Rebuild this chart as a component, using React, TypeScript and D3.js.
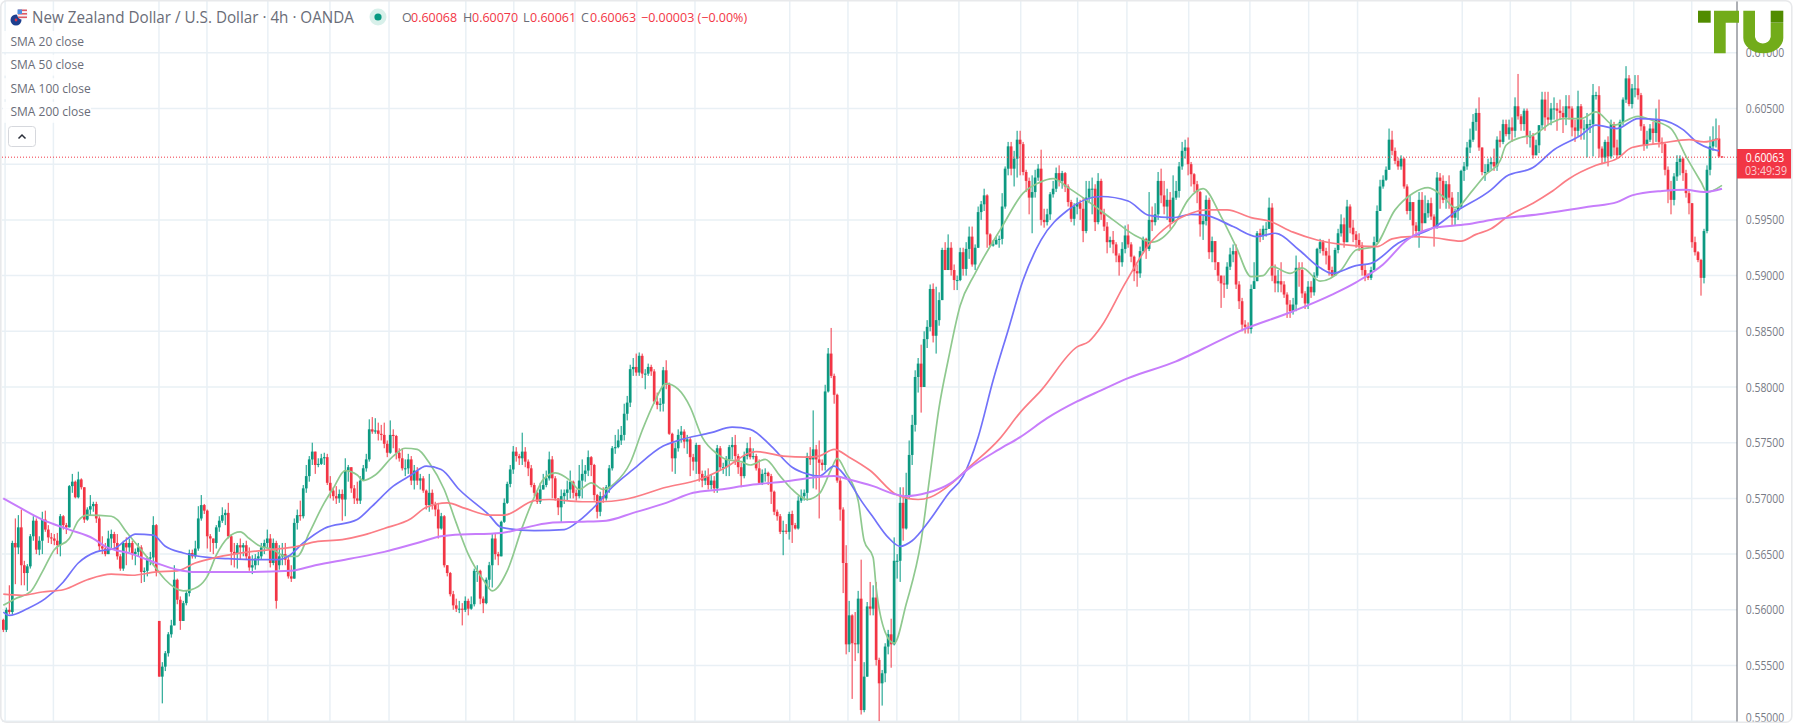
import * as d3 from 'd3';

type Bar = [number, number, number]; // high, low, close in 1/10000 of a dollar

const WIDTH = 1794;
const HEIGHT = 724;
const AXIS_X = 1737;

const barsA: Bar[] = [
  [5592,5580,5582],[5602,5580,5600],[5622,5596,5598],[5662,5596,5660],[5682,5623,5656],[5685,5650,5674],[5690,5622,5640],[5644,5622,5633],[5641,5617,5639],[5668,5637,5666],
  [5684,5662,5680],[5682,5650,5654],[5666,5649,5662],[5688,5650,5681],[5689,5670,5672],[5676,5660,5665],[5669,5659,5664],[5668,5658,5662],[5669,5650,5658],[5686,5648,5684],
  [5685,5672,5676],[5678,5668,5674],[5712,5674,5711],[5722,5705,5715],[5716,5700,5701],[5724,5700,5717],[5718,5708,5710],[5710,5678,5681],[5692,5680,5690],[5703,5685,5693],
  [5697,5688,5695],[5697,5678,5682],[5684,5653,5657],[5666,5650,5655],[5660,5648,5650],[5671,5650,5664],[5672,5655,5668],[5670,5655,5660],[5668,5645,5648],[5650,5635,5637],
  [5662,5635,5660],[5665,5640,5656],[5664,5652,5660],[5662,5645,5650],[5655,5640,5652],[5660,5648,5656],[5658,5624,5634],[5638,5625,5635],[5648,5630,5646],[5652,5640,5647],
  [5684,5640,5676],[5677,5630,5635],[5590,5540,5540],[5553,5516,5549],[5563,5545,5561],[5580,5558,5578],[5591,5575,5586],[5640,5586,5627],[5628,5605,5609],[5612,5582,5590],
  [5608,5590,5606],[5617,5604,5615],[5654,5612,5651],[5654,5646,5648],[5662,5646,5655],[5693,5653,5682],[5703,5680,5694],[5695,5686,5689],[5690,5655,5666],[5668,5652,5664],
  [5664,5650,5660],[5676,5655,5674],[5684,5670,5680],[5692,5678,5685],[5690,5676,5687],[5696,5664,5666],[5668,5640,5652],[5660,5638,5650],[5660,5637,5658],[5664,5645,5656],
  [5660,5648,5658],[5662,5645,5648],[5656,5635,5638],
];

const barsB: Bar[] = [
  [5649,5632,5640],[5650,5636,5646],[5652,5640,5648],[5660,5645,5656],[5663,5650,5660],[5672,5655,5664],[5668,5638,5642],[5664,5640,5660],[5662,5601,5608],[5658,5636,5648],
  [5660,5640,5650],[5660,5640,5645],[5648,5628,5630],[5640,5625,5628],[5682,5628,5678],[5690,5672,5685],[5698,5680,5684],[5712,5682,5709],[5730,5705,5720],[5738,5715,5735],
  [5750,5730,5742],[5742,5722,5730],[5736,5728,5731],[5740,5730,5736],[5741,5730,5737],[5740,5712,5714],[5720,5700,5707],[5710,5698,5702],[5711,5695,5700],[5708,5696,5704],
  [5708,5680,5699],[5736,5684,5725],[5730,5715,5728],[5728,5705,5709],[5712,5695,5700],[5715,5695,5698],[5720,5695,5716],[5730,5716,5727],[5740,5724,5735],[5771,5733,5762],
  [5773,5758,5760],[5772,5758,5761],[5768,5752,5758],[5766,5752,5757],[5768,5745,5749],[5752,5737,5741],[5770,5740,5757],[5762,5745,5756],[5757,5735,5741],[5745,5733,5736],
  [5745,5725,5727],[5735,5720,5727],[5740,5722,5735],[5738,5712,5716],[5730,5708,5725],[5728,5712,5716],[5722,5708,5718],[5720,5705,5707],[5708,5690,5694],[5722,5688,5705],
  [5708,5690,5695],[5697,5684,5690],[5696,5664,5673],[5687,5672,5684],[5685,5638,5640],[5640,5630,5633],[5634,5612,5614],[5617,5600,5604],[5610,5598,5601],[5608,5597,5601],
  [5606,5586,5600],[5612,5598,5608],[5610,5595,5601],[5612,5600,5605],[5637,5603,5635],[5640,5625,5635],[5636,5605,5610],[5612,5597,5606],[5629,5605,5627],[5643,5620,5640],
  [5668,5620,5664],[5669,5645,5650],[5652,5640,5648],
];

const barsC: Bar[] = [
  [5680,5648,5679],[5700,5678,5696],[5715,5695,5713],[5730,5710,5726],[5747,5722,5742],[5746,5733,5738],[5740,5730,5736],[5759,5730,5742],[5746,5728,5733],[5735,5720,5727],
  [5730,5710,5712],[5714,5702,5705],[5706,5695,5697],[5714,5695,5708],[5722,5708,5712],[5725,5710,5718],[5742,5716,5735],[5738,5700,5718],[5720,5698,5700],[5700,5685,5692],
  [5708,5678,5702],[5708,5695,5705],[5716,5698,5708],[5725,5700,5715],[5716,5700,5705],[5708,5698,5702],[5730,5700,5716],[5735,5700,5722],[5730,5715,5725],[5743,5720,5737],
  [5738,5720,5730],[5731,5698,5703],[5704,5682,5688],[5706,5684,5702],[5710,5696,5700],[5712,5698,5710],[5730,5705,5727],[5747,5725,5745],[5757,5740,5746],[5762,5745,5752],
  [5765,5748,5757],[5785,5752,5776],[5792,5770,5786],[5820,5782,5816],[5826,5810,5818],[5830,5810,5813],[5831,5810,5828],[5830,5808,5812],[5816,5798,5812],[5821,5810,5818],
  [5820,5810,5814],[5816,5785,5787],[5795,5780,5784],[5790,5778,5785],[5818,5778,5815],[5824,5798,5802],[5804,5757,5758],[5759,5724,5736],[5750,5722,5745],[5762,5742,5757],
  [5765,5750,5760],[5762,5745,5751],[5757,5740,5753],[5755,5720,5737],[5740,5725,5733],[5750,5722,5748],[5748,5715,5722],[5725,5710,5716],[5725,5712,5720],[5727,5708,5712],
  [5722,5708,5716],[5720,5705,5709],[5748,5705,5745],[5747,5725,5728],[5732,5722,5728],[5738,5720,5735],[5748,5720,5746],[5755,5735,5748],[5757,5730,5738],[5740,5722,5728],
  [5732,5710,5720],[5742,5718,5738],[5750,5735,5745],
];

const barsD: Bar[] = [
  [5755,5735,5737],[5745,5735,5738],[5740,5725,5727],[5735,5713,5714],[5726,5712,5722],[5727,5715,5723],[5724,5712,5720],[5722,5695,5706],[5707,5685,5688],[5690,5680,5684],
  [5686,5668,5670],[5680,5649,5671],[5677,5668,5670],[5688,5663,5686],[5689,5660,5676],[5678,5672,5673],[5702,5672,5698],[5708,5696,5702],[5708,5698,5705],[5741,5698,5738],
  [5746,5730,5735],[5779,5709,5744],[5748,5708,5735],[5752,5682,5732],[5735,5725,5730],[5802,5725,5796],[5835,5795,5830],[5853,5808,5810],[5812,5785,5793],[5794,5714,5716],
  [5720,5680,5690],[5692,5615,5642],[5658,5560,5569],[5608,5562,5595],[5596,5520,5570],[5598,5554,5569],[5617,5561,5610],[5645,5506,5510],[5553,5508,5540],[5607,5540,5603],
  [5625,5595,5601],[5622,5595,5611],[5625,5550,5555],[5557,5500,5534],[5546,5514,5543],[5570,5535,5567],[5582,5560,5578],[5592,5548,5569],[5665,5568,5644],[5650,5628,5644],
  [5710,5625,5696],[5710,5662,5673],[5723,5672,5703],[5752,5700,5739],[5775,5730,5766],[5815,5760,5809],[5826,5795,5821],[5838,5777,5800],
  [5850,5805,5843],[5860,5835,5854],[5892,5850,5888],[5893,5840,5846],[5890,5830,5860],[5885,5855,5878],[5925,5878,5923],[5930,5905,5905],[5937,5905,5925],[5930,5900,5905],
  [5910,5887,5896],[5900,5887,5896],[5925,5895,5921],[5925,5900,5906],[5930,5900,5924],[5944,5915,5935],[5944,5908,5910],[5928,5905,5925],[5962,5925,5957],[5967,5950,5964],
  [5978,5958,5972],[5973,5925,5937],[5938,5926,5927],[5932,5926,5928],[5935,5928,5932],[5936,5925,5933],
];

const barsE: Bar[] = [
  [5974,5928,5962],[5998,5960,5996],[6020,5990,6016],[6020,5990,5996],[6012,5980,6005],[6030,5988,6022],[6030,5990,6018],[6020,5990,5993],[5995,5975,5985],[5988,5955,5970],
  [5990,5938,5975],[5995,5970,5988],[6000,5985,5996],[6013,5945,5950],[5960,5943,5948],[5960,5945,5955],[5975,5950,5973],[5985,5970,5978],
  [5997,5975,5992],[5999,5980,5985],[5994,5978,5992],[5993,5975,5980],[5982,5962,5966],[5968,5948,5951],[5965,5945,5962],[5970,5955,5965],[5968,5950,5960],[5970,5930,5940],
  [5985,5938,5970],[5985,5965,5978],[5988,5955,5978],[5982,5940,5948],[5992,5946,5985],[5987,5950,5955],[5960,5940,5944],[5948,5920,5930],[5935,5925,5932],[5940,5920,5928],
  [5930,5912,5918],[5920,5900,5912],[5930,5908,5924],[5945,5920,5936],[5946,5925,5928],[5930,5912,5917],[5918,5895,5904],[5910,5890,5902],[5926,5898,5922],[5935,5920,5933],
  [5934,5915,5924],[5975,5922,5950],[5962,5940,5948],[5965,5945,5955],[5993,5950,5985],[5996,5965,5972],[5985,5955,5962],[5978,5950,5968],[5975,5942,5948],[5990,5950,5970],
  [5985,5968,5976],[6002,5970,5998],[6020,5995,6012],[6022,6005,6015],[6024,5990,6000],[6002,5980,5991],[5992,5975,5982],[5985,5965,5975],[5976,5935,5946],[5954,5932,5949],
  [5972,5945,5968],[5970,5915,5921],[5935,5912,5931],[5920,5905,5912],[5912,5895,5900],[5900,5871,5893],[5900,5880,5892],[5912,5888,5908],[5925,5905,5919],[5928,5912,5922],
  [5928,5888,5892],[5895,5870,5877],[5880,5850,5856],[5860,5848,5854],[5858,5848,5852],
];

const barsF: Bar[] = [
  [5892,5848,5888],[5912,5888,5895],[5940,5895,5938],[5942,5930,5936],[5945,5932,5942],[5948,5935,5942],[5970,5942,5961],[5965,5895,5900],[5910,5885,5893],[5905,5885,5895],
  [5912,5885,5892],[5895,5880,5883],[5885,5862,5874],[5878,5862,5868],[5880,5865,5874],[5918,5868,5907],[5912,5890,5905],[5912,5880,5884],[5886,5870,5875],[5895,5870,5890],
  [5895,5880,5885],[5903,5882,5900],[5925,5898,5924],[5933,5920,5930],[5932,5918,5922],[5925,5910,5918],[5933,5900,5905],[5908,5898,5900],[5925,5900,5923],[5942,5920,5938],
  [5955,5935,5946],[5952,5925,5930],[5968,5930,5962],[5964,5938,5943],[5950,5930,5937],[5940,5925,5932],[5938,5922,5927],[5930,5900,5905],[5910,5895,5900],[5902,5896,5898],
  [5908,5896,5905],[5935,5905,5930],[5963,5930,5958],[5986,5958,5980],[5990,5978,5986],[5998,5985,5995],[6032,5995,6022],[6030,6008,6012],[6015,6000,6003],[6006,5995,5998],
  [6008,5995,6005],[6006,5978,5980],[5982,5955,5958],[5972,5950,5966],[5965,5935,5945],[5948,5936,5940],[5975,5925,5968],[5975,5940,5947],[5972,5950,5956],[5968,5952,5965],
  [5970,5950,5953],[5955,5926,5943],[5993,5942,5988],[5992,5960,5985],[5990,5965,5968],[5985,5960,5982],[5990,5960,5970],[5975,5945,5952],[5960,5945,5958],[5975,5950,5962],
  [5995,5960,5994],[6002,5985,5998],[6020,5995,6015],[6032,6010,6022],[6045,6020,6038],[6050,6030,6046],[6060,6012,6015],[6015,5990,5993],[6000,5985,5993],[6005,5995,6000],
];

const barsG: Bar[] = [
  [6006,5995,6002],[6014,5994,5998],[6025,5994,6022],[6030,6015,6020],[6040,6018,6036],[6040,6025,6027],[6040,6022,6033],[6042,6020,6030],[6060,6024,6052],[6081,6040,6043],
  [6045,6030,6036],[6050,6030,6048],[6050,6018,6025],[6030,6015,6025],[6028,6005,6008],[6022,6008,6017],[6035,6010,6035],[6065,6032,6058],[6065,6030,6042],[6065,6035,6040],
  [6055,6035,6050],[6060,6040,6050],[6055,6030,6048],[6058,6040,6046],[6052,6028,6042],[6062,6035,6052],[6062,6040,6050],[6052,6025,6033],[6040,6020,6030],[6066,6025,6052],
  [6054,6022,6032],[6040,6022,6032],[6046,6006,6036],[6040,6028,6036],[6072,6007,6062],[6065,6058,6062],[6070,6006,6014],[6016,6000,6006],[6022,6002,6020],[6025,5998,6007],
  [6040,6005,6036],[6038,6008,6015],[6022,6005,6008],[6040,6010,6038],[6060,6035,6058],[6088,6055,6077],[6080,6052,6054],[6072,6050,6068],[6080,6060,6068],[6080,6058,6062],
  [6064,6030,6034],[6036,6012,6017],[6030,6014,6022],[6036,6020,6032],[6038,6018,6028],[6050,6020,6040],[6058,6015,6020],[6024,6010,6018],[6020,5990,5995],[5998,5965,5976],
  [5985,5955,5968],[5992,5963,5989],[6008,5985,6002],[6008,5990,6005],[6006,5985,5992],[5995,5970,5974],[5976,5955,5965],[5965,5925,5930],[5935,5918,5921],[5922,5912,5914],
  [5915,5882,5898],[5942,5893,5940],[5999,5938,5995],[6025,5990,6016],[6034,6012,6022],[6041,6015,6023],[6035,6006,6007],[6007,6006,6006],
];

// opens where the session did not start at the previous close
const gapOpens: Record<number, number> = { 0: 5591, 52: 5590, 92: 5640 };

// [bar, price]
const sma20: [number, number][] = [
  [0,5604],[4,5610],[9,5616],[13,5634],[17,5654],[22,5664],[25,5680],[28,5685],[36,5684],[38,5681],[41,5670],[45,5657],[51,5637],[54,5627],[60,5617],[65,5621],[68,5630],[71,5649],[75,5665],[79,5670],
  [82,5664],[85,5658],[90,5654],[94,5648],[98,5648],[102,5669],[107,5696],[110,5709],[114,5725],[118,5721],[120,5716],[124,5721],[130,5738],[134,5745],[138,5744],[142,5732],[147,5708],[151,5678],[155,5650],[160,5627],[163,5617],
  [168,5635],[173,5674],[177,5701],[180,5717],[184,5723],[189,5716],[192,5708],[196,5714],[200,5708],[204,5714],[209,5732],[213,5761],[217,5786],[221,5803],[225,5798],[229,5782],[233,5755],[238,5740],[241,5735],[246,5733],[249,5730],
  [254,5735],[259,5720],[263,5708],[268,5699],[272,5704],[276,5726],[278,5736],[281,5723],[285,5698],[287,5662],[290,5647],[291,5620],[294,5580],[297,5570],[301,5605],[306,5662],[309,5722],[312,5782],[315,5824],[319,5873],[324,5902],
  [333,5944],[340,5974],[345,5983],[350,5987],[355,5979],[361,5968],[370,5950],[378,5935],[383,5930],[390,5944],[395,5968],[400,5978],[406,5953],[411,5926],[416,5899],[420,5900],[423,5908],[429,5902],[433,5907],[439,5895],[446,5905],[451,5923],[457,5926],[464,5959],[470,5974],[475,5979],[480,5971],[484,5961],[490,5977],[494,5990],
  [499,6003],[501,6017],[506,6024],[510,6026],[516,6037],[520,6041],[526,6041],[531,6047],[537,6035],[545,6043],[550,6039],[556,6032],[561,6007],[566,5984],[568,5975],[573,5981],
];

const sma50: [number, number][] = [
  [0,5598],[2,5595],[8,5601],[14,5610],[20,5625],[25,5642],[31,5652],[37,5655],[41,5663],[44,5668],[50,5667],[54,5657],[60,5651],[68,5647],[74,5646],[84,5645],[92,5645],[95,5648],[100,5660],[107,5673],[118,5681],[123,5693],[130,5711],[136,5721],[141,5729],[146,5726],[152,5708],[162,5685],
  [166,5674],[177,5671],[187,5672],[192,5680],[198,5695],[203,5710],[210,5726],[220,5747],[225,5752],[236,5759],[243,5764],[249,5762],
  [256,5747],[263,5728],[268,5722],[272,5720],[277,5729],[281,5719],[286,5698],[290,5683],[295,5665],[299,5657],[303,5662],[309,5681],[315,5704],[320,5720],[325,5755],[330,5806],[335,5851],[340,5896],[346,5932],[355,5959],[366,5971],[375,5967],[382,5954],[390,5952],[396,5955],[401,5954],[410,5944],[418,5935],[424,5938],[432,5923],[439,5907],[443,5902],[451,5909],[456,5911],[465,5929],[478,5945],[484,5957],[496,5977],
  [501,5989],[510,5997],[517,6013],[526,6026],[531,6035],[538,6032],[545,6041],[552,6040],[560,6031],[565,6019],[569,6014],[572,6012],
];

const sma100: [number, number][] = [
  [0,5614],[6,5613],[13,5616],[20,5618],[28,5627],[36,5632],[43,5631],[51,5634],[58,5635],[64,5642],[71,5647],[82,5652],[89,5654],[98,5657],[104,5661],[113,5663],[120,5667],[127,5673],[136,5682],[141,5692],[148,5696],[154,5691],[162,5685],
  [167,5685],[177,5698],[182,5699],[193,5697],[199,5697],[207,5699],[221,5710],[232,5717],[241,5728],[249,5741],[251,5742],[260,5738],[268,5737],[272,5738],[277,5744],[282,5737],[289,5725],[298,5703],[305,5699],[309,5701],[316,5713],[322,5728],[332,5753],
  [339,5777],[346,5797],[358,5836],[362,5841],[366,5854],[374,5893],[382,5928],[389,5946],[396,5956],[401,5959],[408,5959],[416,5952],[422,5949],[430,5939],[438,5932],[446,5928],[458,5926],[463,5933],[469,5935],[477,5934],[486,5931],[491,5937],[496,5942],
  [502,5954],[510,5965],[516,5975],[522,5987],[531,5999],[538,6005],[543,6015],[553,6019],[562,6022],[567,6020],[572,6023],
];

const sma200: [number, number][] = [
  [0,5700],[6,5691],[13,5681],[22,5672],[30,5664],[34,5657],[43,5650],[51,5642],[58,5636],[63,5634],[70,5634],[82,5634],[96,5635],[104,5640],[116,5646],[127,5652],[138,5660],[146,5666],[149,5667],[166,5669],
  [173,5673],[182,5678],[192,5679],[201,5680],[210,5687],[221,5696],[230,5705],[239,5708],[249,5712],[260,5715],[277,5720],[282,5717],[290,5711],[297,5704],[301,5702],[308,5705],[316,5714],[322,5727],[332,5744],
  [339,5755],[348,5772],[358,5787],[366,5797],[375,5808],[391,5823],[399,5833],[412,5850],[430,5868],[443,5883],[451,5894],[460,5910],[468,5932],[477,5943],[488,5946],[496,5950],[512,5955],[529,5962],[538,5966],[543,5972],[553,5976],[561,5977],[567,5975],[573,5978],
];

const priceTicks = [5500, 5550, 5600, 5650, 5700, 5750, 5800, 5850, 5900, 5950, 6000, 6050, 6100];
// 0.60000 sits behind the last price tag in the reference
const priceLabels = priceTicks.filter((t) => t !== 6000);
const timeGridBars = [0.6, 16.7, 51.9, 67.9, 88.2, 108.9, 128.6, 154.2, 170.2, 190.6, 211.2, 230.6, 262.2, 281.6, 297.9, 318.6, 339.2, 358.2, 374.6, 395.2, 415.6, 435.2, 451.5, 486.4, 502.4, 522.6, 543.6, 562.9];
const legendLabels = ['SMA 20 close', 'SMA 50 close', 'SMA 100 close', 'SMA 200 close'];
const lastPrice = 6006.3;

const UP = '#089981';
const DOWN = '#f23645';
const GRID = '#e9f0f5';
const SANS = '"Open Sans", "Noto Sans", sans-serif';

const hlc = [...barsA, ...barsB, ...barsC, ...barsD, ...barsE, ...barsF, ...barsG];
const candles = hlc.map(([high, low, close], i) => {
  const open = gapOpens[i] ?? (i > 0 ? hlc[i - 1][2] : close);
  return { i, open, high, low, close };
});

const x = d3.scaleLinear().domain([0, hlc.length - 1]).range([3.3, 1722]);
const y = d3.scaleLinear().domain([5500, 6100]).range([721.2, 52.8]);

const smaLine = d3
  .line<[number, number]>()
  .x((d) => x(d[0]))
  .y((d) => y(d[1]))
  .curve(d3.curveMonotoneX);

const ohlcParts = [
  { t: 'O', x: 402, c: '#6a6d78' }, { t: '0.60068', x: 411, c: DOWN },
  { t: 'H', x: 463, c: '#6a6d78' }, { t: '0.60070', x: 472, c: DOWN },
  { t: 'L', x: 523, c: '#6a6d78' }, { t: '0.60061', x: 530, c: DOWN },
  { t: 'C', x: 581, c: '#6a6d78' }, { t: '0.60063', x: 590, c: DOWN },
  { t: '−0.00003 (−0.00%)', x: 641, c: DOWN },
];

export default function App() {
  return (
    <svg
      width={WIDTH}
      height={HEIGHT}
      viewBox={`0 0 ${WIDTH} ${HEIGHT}`}
      style={{ position: 'fixed', left: 0, top: 0, display: 'block', background: '#fff' }}
    >
      <defs>
        <filter id="soft" x="0" y="0" width="100%" height="100%">
          <feGaussianBlur stdDeviation="0.4" />
        </filter>
        <clipPath id="plot">
          <rect x={2} y={0} width={AXIS_X - 2} height={722} />
        </clipPath>
      </defs>

      <g stroke={GRID} strokeWidth={1.5}>
        {priceTicks.map((t) => (
          <line key={t} x1={2} x2={AXIS_X} y1={y(t)} y2={y(t)} />
        ))}
        {timeGridBars.map((b) => (
          <line key={b} x1={x(b)} x2={x(b)} y1={0} y2={722} />
        ))}
      </g>

      <g clipPath="url(#plot)" filter="url(#soft)">
        {candles.map((d) => {
          const color = d.close >= d.open ? UP : DOWN;
          const top = y(Math.max(d.open, d.close));
          const bottom = y(Math.min(d.open, d.close));
          return (
            <g key={d.i} fill={color} stroke={color}>
              <line x1={x(d.i)} x2={x(d.i)} y1={y(d.high)} y2={y(d.low)} strokeWidth={1} />
              <rect x={x(d.i) - 1.35} y={top} width={2.7} height={Math.max(bottom - top, 1)} stroke="none" />
            </g>
          );
        })}
        <g fill="none" strokeLinejoin="round">
          <path d={smaLine(sma20) ?? ''} stroke="#8fc98f" strokeWidth={1.7} />
          <path d={smaLine(sma50) ?? ''} stroke="#7272fa" strokeWidth={1.7} />
          <path d={smaLine(sma100) ?? ''} stroke="#fb7d85" strokeWidth={1.7} />
          <path d={smaLine(sma200) ?? ''} stroke="#c77dfb" strokeWidth={2} />
        </g>
      </g>

      <line x1={2} x2={AXIS_X} y1={y(lastPrice)} y2={y(lastPrice)} stroke={DOWN} strokeWidth={1} strokeDasharray="1 2" />

      {/* title and legend */}
      <g fontFamily={SANS}>
        <circle cx={16} cy={20} r={5.5} fill="#1d3f8f" />
        <circle cx={16} cy={20} r={1.4} fill="#d9344a" />
        <circle cx={22.5} cy={14} r={5.5} fill="#f3f5fa" />
        <rect x={18} y={9.5} width={9} height={1.6} fill="#e05a64" />
        <rect x={18} y={13} width={9} height={1.6} fill="#e05a64" />
        <rect x={18} y={16.5} width={9} height={1.6} fill="#e05a64" />
        <rect x={17.5} y={9.5} width={4.5} height={4.5} fill="#4c8ee0" />
        <text x={32} y={23} fontSize={15.5} fill="#6a6d78" textLength={322} lengthAdjust="spacingAndGlyphs">
          New Zealand Dollar / U.S. Dollar · 4h · OANDA
        </text>
        <circle cx={378} cy={17} r={8.5} fill="#d8f0ea" />
        <circle cx={378} cy={17} r={3.6} fill={UP} />
        {ohlcParts.map((p) => (
          <text key={p.x} x={p.x} y={22} fontSize={12.5} fill={p.c}>
            {p.t}
          </text>
        ))}
        {legendLabels.map((label, i) => (
          <g key={label}>
            <rect x={3} y={31 + i * 23.6} width={88} height={21} fill="#fff" fillOpacity={0.85} />
            <text x={10.5} y={45.5 + i * 23.6} fontSize={12} fill="#6a6d78">
              {label}
            </text>
          </g>
        ))}
        <rect x={8.5} y={126.5} width={27} height={20} rx={3} fill="#fff" stroke="#d6d8dd" />
        <path d="M18.5,138.5 L22,135 L25.5,138.5" fill="none" stroke="#2a2e39" strokeWidth={1.5} />
      </g>

      {/* price scale */}
      <line x1={AXIS_X} x2={AXIS_X} y1={0} y2={722} stroke="#5d606b" strokeWidth={1} />
      <g fontFamily={SANS} fontSize={12} fill="#787b86" textAnchor="middle">
        {priceLabels.map((t) => (
          <text key={t} x={1765} y={Math.min(y(t) + 4.5, 722)} textLength={38.5} lengthAdjust="spacingAndGlyphs">
            {(t / 10000).toFixed(5)}
          </text>
        ))}
      </g>
      <rect x={AXIS_X} y={149} width={54.5} height={29.5} fill={DOWN} />
      <g fontFamily={SANS} fontSize={12} textAnchor="middle" fill="#fff">
        <text x={1765} y={162} textLength={38.5} lengthAdjust="spacingAndGlyphs">0.60063</text>
        <text x={1766} y={175} fillOpacity={0.75} textLength={42} lengthAdjust="spacingAndGlyphs">03:49:39</text>
      </g>

      {/* logo */}
      <g>
        <rect x={1698} y={10.7} width={12.7} height={12} fill="#518c00" />
        <path d="M1714,10.7 H1739 V22.7 H1725.7 V53.3 H1714 Z" fill="#72ac1a" />
        <path d="M1743.3,10.7 H1755 V37 A8,8 0 0 0 1770.7,37 V23 H1783.3 V38 A20,15.3 0 0 1 1743.3,38 Z" fill="#72ac1a" />
        <rect x={1770.7} y={10.7} width={12.6} height={12} fill="#518c00" />
      </g>

      <rect x={0.8} y={0.8} width={1791} height={721.5} rx={6} fill="none" stroke="#e8e9eb" strokeWidth={1.6} />
    </svg>
  );
}
